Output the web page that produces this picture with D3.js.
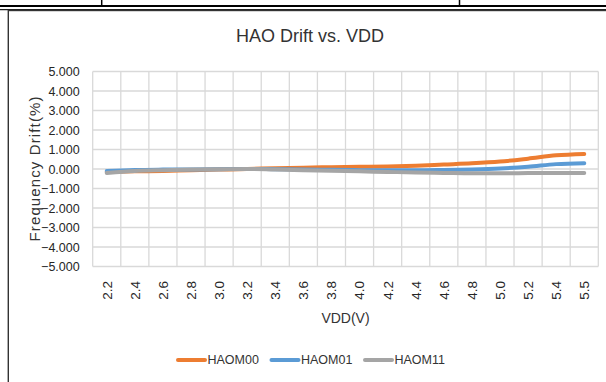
<!DOCTYPE html>
<html>
<head>
<meta charset="utf-8">
<script src="https://cdn.jsdelivr.net/npm/d3@7"></script>
<style>
  html, body { margin: 0; padding: 0; background: #fff; }
  svg { display: block; font-family: "Liberation Sans", Arial, sans-serif; }
</style>
</head>
<body>
<div class="chart"></div>
<script>
// VDD categories (x axis)
const vdd = ['2.2', '2.4', '2.6', '2.8', '3.0', '3.2', '3.4', '3.6', '3.8', '4.0',
             '4.2', '4.4', '4.6', '4.8', '5.0', '5.2', '5.4', '5.5'];

// frequency drift (%) per series
const haom00 = [-0.15, -0.12, -0.10, -0.06, -0.03, 0.00, 0.04, 0.07, 0.09, 0.11,
                0.13, 0.17, 0.23, 0.29, 0.38, 0.53, 0.70, 0.77];
const haom01 = [-0.10, -0.05, -0.03, -0.02, -0.01, 0.00, -0.01, -0.02, -0.04, -0.06,
                -0.07, -0.07, -0.05, -0.02, 0.03, 0.12, 0.25, 0.30];
const haom11 = [-0.20, -0.10, -0.06, -0.03, -0.01, 0.00, -0.03, -0.06, -0.09, -0.12,
                -0.15, -0.18, -0.20, -0.22, -0.22, -0.21, -0.20, -0.20];

const yTicks = [-5, -4, -3, -2, -1, 0, 1, 2, 3, 4, 5];

const seriesNames = ['HAOM00', 'HAOM01', 'HAOM11'];
const seriesValues = [haom00, haom01, haom11];
const colors = ['#ED7D31', '#5B9BD5', '#A5A5A5'];

const w = 606;
const h = 382;
const plot = { left: 92.7, right: 598.3, top: 71.5, bottom: 266.5 };

const svg = d3.select('.chart')
              .append('svg')
              .attr('width', w)
              .attr('height', h);

// document table lines above the chart
svg.append('line')
   .attr('x1', 0).attr('x2', w).attr('y1', 6).attr('y2', 6)
   .attr('stroke', '#000').attr('stroke-width', 2.2);
svg.append('line')
   .attr('x1', 0).attr('x2', w).attr('y1', 9.6).attr('y2', 9.6)
   .attr('stroke', '#222').attr('stroke-width', 1.2);
[101.7, 459.5].forEach(x => {
  svg.append('line')
     .attr('x1', x).attr('x2', x).attr('y1', 0).attr('y2', 5)
     .attr('stroke', '#000').attr('stroke-width', 1.5);
});

// chart frame (right side runs past the picture)
svg.append('rect')
   .attr('x', 8.3).attr('y', 10.5)
   .attr('width', 700).attr('height', 500)
   .attr('fill', 'none')
   .attr('stroke', '#333').attr('stroke-width', 1.4);

const xScale = d3.scaleBand()
                 .domain(vdd)
                 .range([plot.left, plot.right])
                 .padding(0);

const yScale = d3.scaleLinear()
                 .domain([-5, 5])
                 .range([plot.bottom, plot.top]);

// gridlines
const grid = svg.append('g').attr('stroke', '#d9d9d9').attr('stroke-width', 1.3);
grid.selectAll('.h')
    .data(yTicks)
    .enter()
    .append('line')
    .attr('x1', plot.left).attr('x2', plot.right)
    .attr('y1', d => yScale(d)).attr('y2', d => yScale(d));
grid.selectAll('.v')
    .data(vdd.map(d => xScale(d)).concat([plot.right]))
    .enter()
    .append('line')
    .attr('x1', d => d).attr('x2', d => d)
    .attr('y1', plot.top).attr('y2', plot.bottom);

// y axis
const yAxis = d3.axisLeft(yScale)
                .tickValues(yTicks)
                .tickFormat(d3.format('.3f'))
                .tickSize(0)
                .tickPadding(13);
const gy = svg.append('g')
              .attr('transform', `translate(${plot.left}, 0)`)
              .call(yAxis);
gy.select('.domain').remove();
gy.selectAll('text')
  .attr('font-family', '"Liberation Sans", Arial, sans-serif')
  .attr('font-size', 12.5)
  .attr('fill', '#262626');

// x axis, labels turned upright
const xAxis = d3.axisBottom(xScale).tickSize(0);
const gx = svg.append('g')
              .attr('transform', `translate(0, ${plot.bottom})`)
              .call(xAxis);
gx.select('.domain').remove();
gx.selectAll('text')
  .attr('font-family', '"Liberation Sans", Arial, sans-serif')
  .attr('font-size', 13.5)
  .attr('fill', '#262626')
  .attr('transform', 'rotate(-90)')
  .attr('text-anchor', 'end')
  .attr('x', -14.5)
  .attr('y', 0)
  .attr('dy', '0.36em');

// series lines
const line = d3.line()
               .x((d, i) => xScale(vdd[i]) + xScale.bandwidth() / 2)
               .y(d => yScale(d))
               .curve(d3.curveMonotoneX);

svg.selectAll('.series')
   .data(seriesValues)
   .enter()
   .append('path')
   .attr('d', d => line(d))
   .attr('fill', 'none')
   .attr('stroke', (d, i) => colors[i])
   .attr('stroke-width', 4)
   .attr('stroke-linecap', 'round')
   .attr('stroke-linejoin', 'round');

// titles
svg.append('text')
   .attr('x', 310)
   .attr('y', 41.7)
   .attr('text-anchor', 'middle')
   .attr('font-size', 18)
   .attr('fill', '#333')
   .text('HAO Drift vs. VDD');

svg.append('text')
   .attr('transform', `translate(35, ${(plot.top + plot.bottom) / 2}) rotate(-90)`)
   .attr('text-anchor', 'middle')
   .attr('dy', '0.35em')
   .attr('font-size', 15)
   .attr('textLength', 145)
   .attr('lengthAdjust', 'spacing')
   .attr('fill', '#333')
   .text('Frequency Drift(%)');

svg.append('text')
   .attr('x', (plot.left + plot.right) / 2)
   .attr('y', 323)
   .attr('text-anchor', 'middle')
   .attr('font-size', 14)
   .attr('fill', '#333')
   .text('VDD(V)');

// legend
const legend = svg.selectAll('.legend')
                  .data(seriesNames)
                  .enter()
                  .append('g')
                  .attr('transform', (d, i) => `translate(${178 + i * 93.5}, 360)`);
legend.append('line')
      .attr('x1', 0).attr('x2', 27)
      .attr('stroke', (d, i) => colors[i])
      .attr('stroke-width', 4)
      .attr('stroke-linecap', 'round');
legend.append('text')
      .attr('x', 29.5)
      .attr('dy', '0.35em')
      .attr('font-size', 12.5)
      .attr('fill', '#333')
      .text(d => d);
</script>
</body>
</html>
